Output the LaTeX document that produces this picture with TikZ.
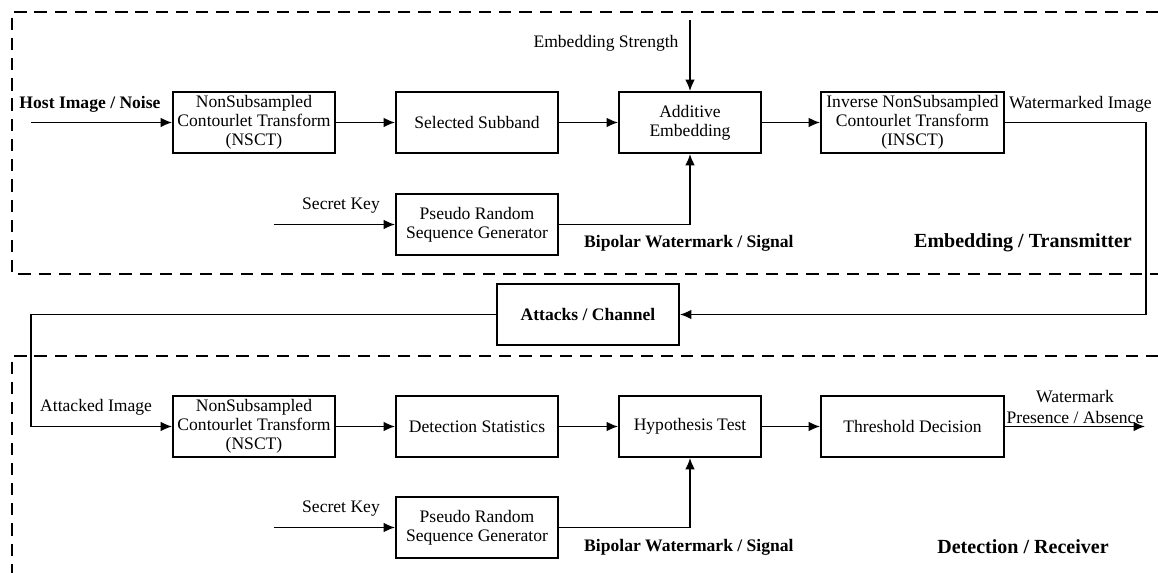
\documentclass[tikz,border=0pt]{standalone}
\usepackage{fontspec}
\setmainfont{Liberation Serif}
\usetikzlibrary{positioning, arrows.meta, calc}

\begin{document}
\begin{tikzpicture}[x=0.02cm, y=-0.02cm,
    blk/.style={draw, line width=1pt, minimum height=1.22cm, align=center,
        inner sep=1pt, font=\fontsize{10}{10.8}\selectfont},
    flow/.style={line width=1pt, -{Latex[length=6.5pt, width=5.5pt]}},
    frame/.style={line width=1pt, dash pattern=on 7pt off 4.5pt},
    lbl/.style={font=\fontsize{10}{11.5}\selectfont, align=center},
    blbl/.style={font=\bfseries\fontsize{10}{11.5}\selectfont},
    sect/.style={font=\bfseries\fontsize{11.4}{13}\selectfont}]
    \useasboundingbox (0,0) rectangle (1158,573);
    % dashed frames
    \draw[frame] (1158,12) -| (12,274) -- (1158,274);
    \draw[frame] (1158,356) -| (12,573);
    % blocks: name / x / y / width / text
    \foreach \n/\x/\y/\w/\t in {%
        nsctA/254/122.5/162/{NonSubsampled\\Contourlet Transform\\(NSCT)},
        subband/477/122.5/162/Selected Subband,
        addemb/690/122.5/142/{Additive\\Embedding},
        insct/912.5/122.5/183/{Inverse NonSubsampled\\Contourlet Transform\\(INSCT)},
        prsgA/477/224.5/162/{Pseudo Random\\Sequence Generator},
        attack/588/314.5/182/{\bfseries Attacks / Channel},
        nsctB/254/426.5/162/{NonSubsampled\\Contourlet Transform\\(NSCT)},
        detstat/477/426.5/162/Detection Statistics,
        hyptest/690/426.5/142/Hypothesis Test,
        thresh/912.5/426.5/183/Threshold Decision,
        prsgB/477/527.5/162/{Pseudo Random\\Sequence Generator}%
    }{
        \node[blk, minimum width=\w*0.02cm] (\n) at (\x,\y) {\t};
    }
    % free ends and corners
    \coordinate (hostin) at (31,122.5);
    \coordinate (strength) at (690,20);
    \coordinate (keyA) at (274,224.5);
    \coordinate (turnA) at (1146,314.5);
    \coordinate (turnB) at (31,314.5);
    \coordinate (keyB) at (274,527.5);
    \coordinate (decision) at (1145,426.5);
    % labels
    \node[blbl] (hostlbl) at (90,104) {Host Image / Noise};
    \node[lbl] (strlbl) at (606,43) {Embedding Strength};
    \node[lbl] (keylblA) at (341,206) {Secret Key};
    \node[blbl, anchor=west] (biplblA) at (578,243) {Bipolar Watermark / Signal};
    \node[lbl, anchor=west] (wmlbl) at (1003,104) {Watermarked Image};
    \node[sect] (embsect) at (1023,243) {Embedding / Transmitter};
    \node[lbl, anchor=west] (attlbl) at (34,407) {Attacked Image};
    \node[lbl] (keylblB) at (341,509) {Secret Key};
    \node[blbl, anchor=west] (biplblB) at (578,547) {Bipolar Watermark / Signal};
    \node[lbl] (declbl) at (1075,407) {Watermark\\Presence / Absence};
    \node[sect] (detsect) at (1023,547) {Detection / Receiver};
    % embedding chain
    \draw[flow] (hostin) -- (nsctA);
    \draw[flow] (nsctA) -- (subband);
    \draw[flow] (subband) -- (addemb);
    \draw[flow] (addemb) -- (insct);
    \draw[flow] (strength) -- (addemb);
    \draw[flow] (keyA) -- (prsgA);
    \draw[flow] (prsgA.east) -| (addemb.south);
    % channel
    \draw[flow] (insct.east) -| (turnA) -- (attack.east);
    \draw[flow] (attack.west) -- (turnB) |- (nsctB.west);
    % detection chain
    \draw[flow] (nsctB) -- (detstat);
    \draw[flow] (detstat) -- (hyptest);
    \draw[flow] (hyptest) -- (thresh);
    \draw[flow] (thresh) -- (decision);
    \draw[flow] (keyB) -- (prsgB);
    \draw[flow] (prsgB.east) -| (hyptest.south);
\end{tikzpicture}
\end{document}
